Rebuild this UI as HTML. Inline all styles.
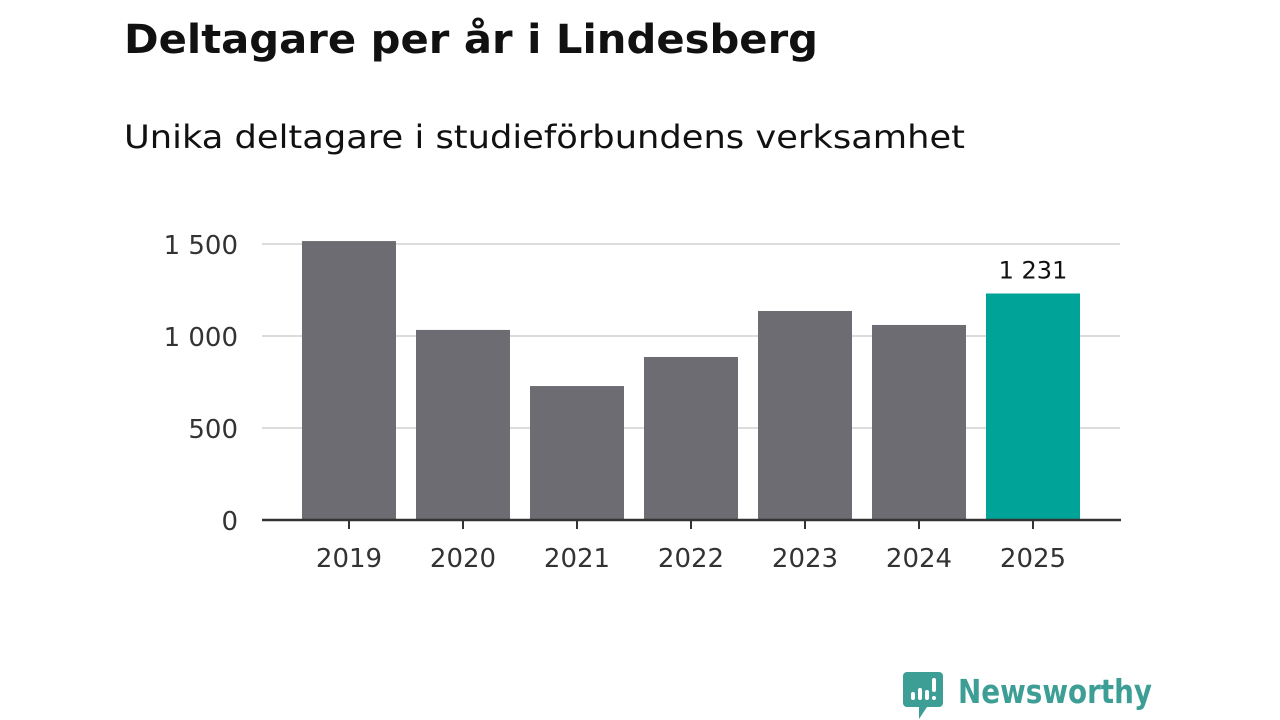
<!DOCTYPE html>
<html><head><meta charset="utf-8"><style>body{margin:0;background:#fff}svg{display:block}text{font-family:"DejaVu Sans","Liberation Sans",sans-serif}</style></head>
<body>
<svg id="chart" width="1280" height="720" xmlns="http://www.w3.org/2000/svg">
<text x="124" y="53" font-size="40" font-weight="bold" fill="#111" textLength="694" lengthAdjust="spacingAndGlyphs">Deltagare per år i Lindesberg</text>
<text x="124" y="148" font-size="32" fill="#111" textLength="841" lengthAdjust="spacingAndGlyphs">Unika deltagare i studieförbundens verksamhet</text>
<g id="grid"></g><g id="bars"></g><g id="axis"></g>
<g>
<path d="M907 672 h32 a4 4 0 0 1 4 4 v27 a4 4 0 0 1 -4 4 h-12 l-8 12 v-12 h-12 a4 4 0 0 1 -4 -4 v-27 a4 4 0 0 1 4 -4z" fill="#3d9e96"/>
<rect x="911" y="692" width="4" height="8" rx="2" fill="#fff"/><rect x="918" y="688" width="4" height="12" rx="2" fill="#fff"/><rect x="925" y="690" width="4" height="10" rx="2" fill="#fff"/><rect x="932" y="678" width="4" height="14" rx="2" fill="#fff"/><circle cx="934" cy="698" r="2" fill="#fff"/>
<text x="958" y="703" font-size="33" font-weight="bold" fill="#3d9e96" textLength="194" lengthAdjust="spacingAndGlyphs">Newsworthy</text>
</g>
</svg>
<script>
const categories=["2019","2020","2021","2022","2023","2024","2025"];
const values=[1516,1033,728,886,1136,1060,1231];
const ticks=[0,500,1000,1500];
const tickLabels=["0","500","1 000","1 500"];
const NS="http://www.w3.org/2000/svg";
const y=v=>520-v*0.184;
const x=i=>302+i*114;
const bw=94;
function mk(t,a,p){const e=document.createElementNS(NS,t);for(const k in a)e.setAttribute(k,a[k]);p.appendChild(e);return e;}
const g=document.getElementById('grid'),b=document.getElementById('bars'),ax=document.getElementById('axis');
ticks.forEach((t,i)=>{
 if(t>0){const l=mk('line',{x1:262,x2:1120,y1:y(t),y2:y(t),stroke:'#dcdcdc','stroke-width':2},g);
 
 }
 const tx=mk('text',{x:238,y:y(t)+10,'font-size':26,fill:'#333','text-anchor':'end'},ax);
 tx.textContent=tickLabels[i];
 
 
});
categories.forEach((c,i)=>{
 const last=i===categories.length-1;
 const r=mk('rect',{x:x(i),y:y(values[i]),width:bw,height:520-y(values[i]),fill:last?'#00a398':'#6d6c72'},b);
 
 
 mk('line',{x1:x(i)+bw/2,x2:x(i)+bw/2,y1:520,y2:529,stroke:'#333','stroke-width':2},ax);
 const t=mk('text',{x:x(i)+bw/2,y:567,'font-size':26,fill:'#333','text-anchor':'middle'},ax);
 t.textContent=c;
 
 
 if(last){const v=mk('text',{x:x(i)+bw/2,y:y(values[i])-15,'font-size':24,fill:'#111','text-anchor':'middle'},ax);
 v.textContent=String(values[i]).replace(/\B(?=(\d{3})+$)/g,' ');
 
 }
});
const al=mk('line',{x1:262,x2:1121,y1:520,y2:520,stroke:'#333','stroke-width':2.5},ax);


</script>
</body></html>
